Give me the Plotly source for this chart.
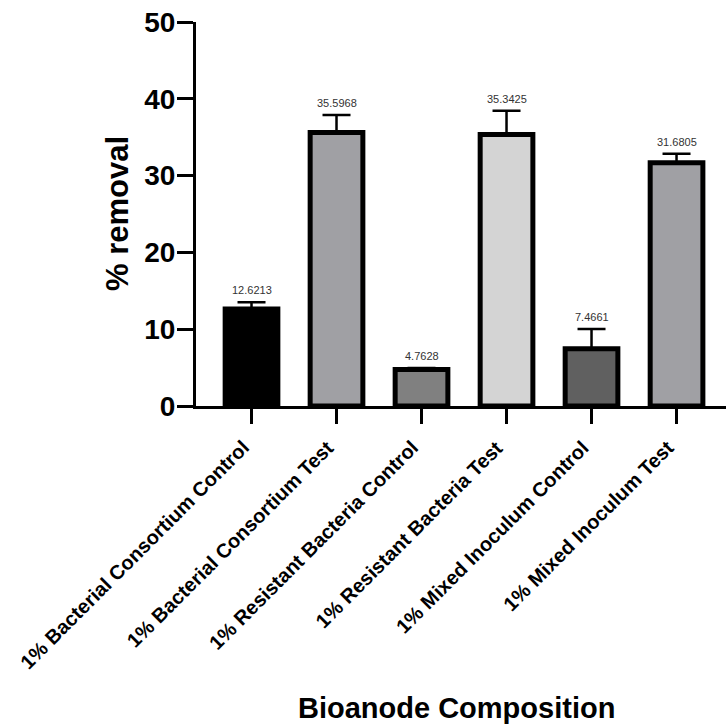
import plotly.graph_objects as go

categories = [
    "1% Bacterial Consortium Control",
    "1% Bacterial Consortium Test",
    "1% Resistant Bacteria Control",
    "1% Resistant Bacteria Test",
    "1% Mixed Inoculum Control",
    "1% Mixed Inoculum Test",
]
values = [12.6213, 35.5968, 4.7628, 35.3425, 7.4661, 31.6805]
errors = [0.9, 2.3, 0.2, 3.1, 2.55, 1.15]
value_labels = ["12.6213", "35.5968", "4.7628", "35.3425", "7.4661", "31.6805"]
colors = ["#000000", "#A0A0A4", "#808080", "#D4D4D4", "#606060", "#A0A0A4"]
yticks = [0, 10, 20, 30, 40, 50]

FONT = "Arial, Liberation Sans, sans-serif"

fig = go.Figure()
fig.add_trace(go.Bar(
    x=categories,
    y=values,
    width=0.62,
    marker=dict(color=colors, line=dict(color="black", width=5)),
    error_y=dict(type="data", symmetric=False, array=errors,
                 arrayminus=[0] * len(errors), color="black",
                 thickness=2.5, width=14),
    showlegend=False,
))

for c, v, e, t in zip(categories, values, errors, value_labels):
    fig.add_annotation(x=c, y=v + e, text=t, showarrow=False,
                       yanchor="bottom", yshift=4,
                       font=dict(family=FONT, size=11, color="#333333"))

# rotated category labels, top-right corner anchored at the tick
for c in categories:
    fig.add_annotation(x=c, yref="paper", y=-0.072, text="<b>%s</b>" % c,
                       textangle=-45, showarrow=False,
                       xanchor="right", yanchor="top", xshift=4,
                       font=dict(family=FONT, size=20, color="black"))

fig.add_annotation(xref="paper", yref="paper", x=-0.149, y=0.5,
                   text="<b>% removal</b>", textangle=-90, showarrow=False,
                   xanchor="center", yanchor="middle",
                   font=dict(family=FONT, size=31, color="black"))
fig.add_annotation(xref="paper", yref="paper", x=0.4906, y=-0.786,
                   text="<b>Bioanode Composition</b>", showarrow=False,
                   xanchor="center", yanchor="middle",
                   font=dict(family=FONT, size=29, color="black"))

fig.update_layout(
    width=726, height=726,
    margin=dict(l=196, r=0, t=22, b=320, autoexpand=False),
    plot_bgcolor="white", paper_bgcolor="white",
    font=dict(family=FONT, color="black"),
    xaxis=dict(
        range=[-0.653, 5.582], showgrid=False, zeroline=False,
        showline=True, linecolor="black", linewidth=3,
        ticks="outside", ticklen=15, tickwidth=3, tickcolor="black",
        showticklabels=False, automargin=False,
    ),
    yaxis=dict(
        range=[0, 50], tickvals=yticks, showgrid=False, zeroline=False,
        showline=True, linecolor="black", linewidth=3,
        ticks="outside", ticklen=16, tickwidth=3, tickcolor="black",
        automargin=False, ticklabelstandoff=-4,
        tickfont=dict(family=FONT, size=28, color="black", weight="bold"),
    ),
)

fig.write_html("out.html")
